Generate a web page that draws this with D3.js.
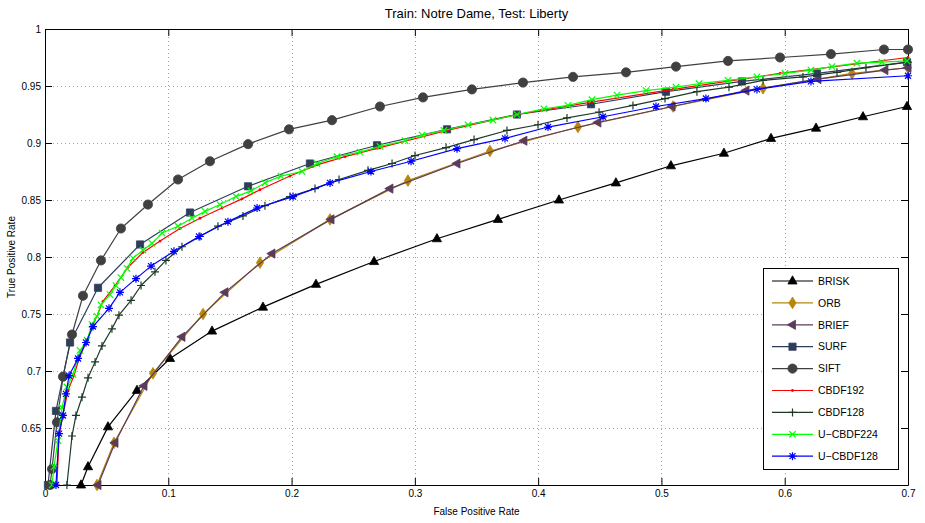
<!DOCTYPE html>
<html>
<head>
<meta charset="utf-8">
<script src="https://cdn.jsdelivr.net/npm/d3@7"></script>
<style>
  html, body { margin: 0; padding: 0; background: #fff; }
  svg { display: block; font-family: "Liberation Sans", Arial, Helvetica, sans-serif; }
</style>
</head>
<body>
<svg id="chart" width="925" height="523"></svg>
<script>
// ---------------- DATA ----------------
const titleText = "Train: Notre Dame, Test: Liberty";
const xLabelText = "False Positive Rate";
const yLabelText = "True Positive Rate";
const xTicks = [0, 0.1, 0.2, 0.3, 0.4, 0.5, 0.6, 0.7];
const xTickLabels = ["0", "0.1", "0.2", "0.3", "0.4", "0.5", "0.6", "0.7"];
const yTicks = [0.65, 0.7, 0.75, 0.8, 0.85, 0.9, 0.95, 1];
const yTickLabels = ["0.65", "0.7", "0.75", "0.8", "0.85", "0.9", "0.95", "1"];
const seriesNames = ["BRISK", "ORB", "BRIEF", "SURF", "SIFT", "CBDF192", "CBDF128", "U\u2212CBDF224", "U\u2212CBDF128"];

const briskFPR = [0.0292,0.0349,0.0511,0.0746,0.1014,0.1355,0.1768,0.2198,0.2669,0.3179,0.3674,0.4169,0.4631,0.5077,0.5507,0.5889,0.6254,0.6635,0.6992];
const briskTPR = [0.600,0.616,0.651,0.683,0.711,0.735,0.756,0.776,0.796,0.816,0.833,0.850,0.865,0.880,0.891,0.904,0.913,0.923,0.932];

const orbFPR = [0.0422,0.0560,0.0876,0.1282,0.1744,0.2312,0.2944,0.3609,0.4323,0.5094,0.5824,0.6546,0.700];
const orbTPR = [0.600,0.637,0.698,0.750,0.795,0.833,0.867,0.893,0.914,0.932,0.948,0.961,0.966];

const briefFPR = [0.0430,0.0568,0.0803,0.1111,0.1460,0.1841,0.2320,0.2798,0.3342,0.3885,0.4485,0.5086,0.5686,0.6270,0.6813,0.700];
const briefTPR = [0.600,0.637,0.687,0.730,0.769,0.803,0.833,0.860,0.882,0.902,0.918,0.932,0.946,0.956,0.964,0.966];

const surfFPR = [0.0024,0.0089,0.0203,0.0430,0.0771,0.1176,0.1647,0.2149,0.2693,0.3261,0.3828,0.4429,0.5037,0.5653,0.6262,0.6992];
const surfTPR = [0.600,0.665,0.725,0.773,0.811,0.839,0.862,0.882,0.898,0.912,0.925,0.934,0.945,0.954,0.961,0.971];

const siftFPR = [0.0041,0.0057,0.0097,0.0146,0.0219,0.0308,0.0454,0.0616,0.0835,0.1079,0.1338,0.1647,0.1979,0.2328,0.2717,0.3066,0.3463,0.3877,0.4283,0.4713,0.5118,0.5540,0.5962,0.6375,0.6805,0.700];
const siftTPR = [0.600,0.614,0.655,0.695,0.732,0.766,0.797,0.825,0.846,0.868,0.884,0.899,0.912,0.920,0.932,0.940,0.947,0.953,0.958,0.962,0.967,0.972,0.975,0.978,0.982,0.982];

const cbdf192FPR = [0.0097,0.0114,0.0146,0.0187,0.0235,0.0276,0.0333,0.0389,0.0470,0.0568,0.0673,0.0795,0.0933,0.1095,0.1257,0.1436,0.1598,0.1744,0.1987,0.2214,0.2433,0.2717,0.3261,0.3828,0.4445,0.5094,0.5962,0.700];
const cbdf192TPR = [0.600,0.644,0.662,0.683,0.696,0.711,0.725,0.740,0.761,0.775,0.791,0.804,0.814,0.825,0.834,0.843,0.851,0.859,0.871,0.881,0.888,0.896,0.911,0.925,0.936,0.947,0.961,0.975];

const cbdf128FPR = [0.0178,0.0219,0.0251,0.0300,0.0349,0.0406,0.0462,0.0543,0.0600,0.0698,0.0779,0.0892,0.0981,0.1111,0.1257,0.1403,0.1606,0.1784,0.1987,0.2190,0.2385,0.2620,0.2815,0.3001,0.3253,0.3480,0.3747,0.3999,0.4234,0.4494,0.4769,0.5029,0.5288,0.5548,0.5824,0.6148,0.6424,0.6659,0.700];
const cbdf128TPR = [0.600,0.643,0.661,0.677,0.694,0.708,0.722,0.737,0.749,0.762,0.775,0.787,0.797,0.809,0.818,0.827,0.836,0.845,0.853,0.860,0.868,0.876,0.882,0.889,0.896,0.903,0.911,0.916,0.922,0.927,0.933,0.939,0.945,0.949,0.955,0.958,0.962,0.966,0.971];

const ucbdf224FPR = [0.0057,0.0073,0.0105,0.0138,0.0178,0.0227,0.0284,0.0341,0.0381,0.0422,0.0454,0.0527,0.0576,0.0616,0.0665,0.0714,0.0795,0.0868,0.0949,0.1079,0.1192,0.1298,0.1419,0.1549,0.1671,0.1784,0.1914,0.2085,0.2206,0.2369,0.2555,0.2717,0.2920,0.3058,0.3236,0.3431,0.3634,0.3828,0.4047,0.4242,0.4437,0.4640,0.4875,0.5118,0.5305,0.5540,0.5775,0.6002,0.6213,0.6383,0.6586,0.6789,0.6992];
const ucbdf224TPR = [0.600,0.616,0.639,0.668,0.686,0.697,0.718,0.727,0.741,0.748,0.758,0.767,0.775,0.782,0.790,0.799,0.806,0.812,0.821,0.827,0.834,0.840,0.846,0.853,0.858,0.865,0.871,0.875,0.882,0.888,0.892,0.897,0.902,0.907,0.911,0.916,0.920,0.925,0.930,0.933,0.938,0.942,0.946,0.949,0.952,0.955,0.958,0.961,0.964,0.967,0.970,0.971,0.972];

const ucbdf128FPR = [0.0089,0.0114,0.0146,0.0170,0.0195,0.0268,0.0333,0.0389,0.0519,0.0608,0.0738,0.0860,0.1046,0.1249,0.1484,0.1720,0.2012,0.2312,0.2644,0.2969,0.3342,0.3731,0.4080,0.4526,0.4956,0.5361,0.5775,0.6213,0.700];
const ucbdf128TPR = [0.600,0.645,0.661,0.680,0.696,0.711,0.725,0.739,0.755,0.769,0.781,0.792,0.805,0.818,0.831,0.843,0.853,0.865,0.875,0.884,0.895,0.904,0.914,0.923,0.932,0.939,0.947,0.954,0.959];

// ---------------- STYLE ----------------
const seriesStyle = [
  {color: "#000000", marker: "^"},
  {color: "#b8860b", marker: "d"},
  {color: "#5b3b5b", marker: "<"},
  {color: "#2f3d5c", marker: "s"},
  {color: "#404040", marker: "o"},
  {color: "#ff0000", marker: "."},
  {color: "#1c3a26", marker: "+"},
  {color: "#00ff00", marker: "x"},
  {color: "#0000ff", marker: "*"}
];
const seriesFPR = [briskFPR, orbFPR, briefFPR, surfFPR, siftFPR, cbdf192FPR, cbdf128FPR, ucbdf224FPR, ucbdf128FPR];
const seriesTPR = [briskTPR, orbTPR, briefTPR, surfTPR, siftTPR, cbdf192TPR, cbdf128TPR, ucbdf224TPR, ucbdf128TPR];

const series = seriesNames.map((name, i) => ({
  name,
  color: seriesStyle[i].color,
  marker: seriesStyle[i].marker,
  points: seriesFPR[i].map((xv, j) => ({x: xv, y: seriesTPR[i][j]}))
}));

// ---------------- LAYOUT ----------------
const svg = d3.select("#chart");
const pL = 45, pR = 908, pT = 29, pB = 485;
const xs = d3.scaleLinear().domain([0, 0.7]).range([pL, pR]);
const ys = d3.scaleLinear().domain([0.6, 1]).range([pB, pT]);

svg.append("rect").attr("width", 925).attr("height", 523).attr("fill", "#fff");

// grid
const grid = svg.append("g").attr("stroke", "#8a8a8a").attr("stroke-width", 0.8).attr("stroke-dasharray", "1,3");
grid.selectAll(".gx").data(xTicks).join("line")
  .attr("x1", d => Math.round(xs(d)) + 0.5).attr("x2", d => Math.round(xs(d)) + 0.5)
  .attr("y1", pT).attr("y2", pB);
grid.selectAll(".gy").data(yTicks).join("line")
  .attr("y1", d => Math.round(ys(d)) + 0.5).attr("y2", d => Math.round(ys(d)) + 0.5)
  .attr("x1", pL).attr("x2", pR);

// axes
const tickLen = 7;
const fmtX = (d, i) => xTickLabels[i];
const fmtY = (d, i) => yTickLabels[i];
const axB = svg.append("g").attr("transform", `translate(0,${pB})`)
  .call(d3.axisBottom(xs).tickValues(xTicks).tickFormat(fmtX).tickSizeInner(-tickLen).tickSizeOuter(0).tickPadding(5));
const axL = svg.append("g").attr("transform", `translate(${pL},0)`)
  .call(d3.axisLeft(ys).tickValues(yTicks).tickFormat(fmtY).tickSizeInner(-tickLen).tickSizeOuter(0).tickPadding(4));
const axT = svg.append("g").attr("transform", `translate(0,${pT})`)
  .call(d3.axisTop(xs).tickValues(xTicks).tickFormat("").tickSizeInner(-tickLen).tickSizeOuter(0));
const axR = svg.append("g").attr("transform", `translate(${pR},0)`)
  .call(d3.axisRight(ys).tickValues(yTicks).tickFormat("").tickSizeInner(-tickLen).tickSizeOuter(0));
[axB, axL, axT, axR].forEach(g => {
  g.selectAll("path.domain").attr("stroke", "#000").attr("stroke-width", 1);
  g.selectAll(".tick line").attr("stroke", "#000").attr("stroke-width", 1);
  g.selectAll("text").attr("font-size", 10).attr("fill", "#000")
    .attr("font-family", "'Liberation Sans', Arial, sans-serif");
});

// markers
function markerPath(type) {
  switch (type) {
    case "^": return "M0,-5.2L4.6,3L-4.6,3Z";
    case "d": return "M0,-5.8L3.6,0L0,5.8L-3.6,0Z";
    case "<": return "M-5.2,0L3,-4.6L3,4.6Z";
    case "s": return "M-3.6,-3.6H3.6V3.6H-3.6Z";
    case "+": return "M-4,0H4M0,-4V4";
    case "x": return "M-3.2,-3.2L3.2,3.2M-3.2,3.2L3.2,-3.2";
    case "*": return "M-4,0H4M0,-4V4M-3,-3L3,3M-3,3L3,-3";
  }
  return "";
}
function drawMarker(g, type, color) {
  if (type === "o") {
    g.append("circle").attr("r", 4.6).attr("fill", color).attr("stroke", color).attr("stroke-width", 0.8);
  } else if (type === ".") {
    g.append("circle").attr("r", 1.4).attr("fill", color);
  } else if (type === "+" || type === "x" || type === "*") {
    g.append("path").attr("d", markerPath(type)).attr("fill", "none").attr("stroke", color).attr("stroke-width", 1.2);
  } else {
    g.append("path").attr("d", markerPath(type)).attr("fill", color).attr("stroke", color).attr("stroke-width", 0.8).attr("stroke-linejoin", "round");
  }
}

const lineGen = d3.line().x(d => xs(d.x)).y(d => ys(d.y));
const plot = svg.append("g");
series.forEach(s => {
  const g = plot.append("g");
  g.append("path").datum(s.points).attr("d", lineGen)
    .attr("fill", "none").attr("stroke", s.color).attr("stroke-width", 1.2).attr("stroke-linejoin", "round");
  s.points.forEach(p => {
    const mg = g.append("g").attr("transform", `translate(${xs(p.x)},${ys(p.y)})`);
    drawMarker(mg, s.marker, s.color);
  });
});

// title & labels
svg.append("text").attr("x", (pL + pR) / 2).attr("y", 18).attr("text-anchor", "middle")
  .attr("font-size", 13).attr("fill", "#000").text(titleText);
svg.append("text").attr("x", (pL + pR) / 2).attr("y", 515).attr("text-anchor", "middle")
  .attr("font-size", 10).attr("fill", "#000").text(xLabelText);
svg.append("text").attr("transform", `translate(15,${(pT + pB) / 2}) rotate(-90)`).attr("text-anchor", "middle")
  .attr("font-size", 10).attr("fill", "#000").text(yLabelText);

// legend
const lgX = 763, lgY = 268, lgW = 135, lgH = 201;
const lg = svg.append("g");
lg.append("rect").attr("x", lgX + 0.5).attr("y", lgY + 0.5).attr("width", lgW).attr("height", lgH)
  .attr("fill", "#fff").attr("stroke", "#000").attr("stroke-width", 1);
series.forEach((s, i) => {
  const yy = lgY + 13 + i * 21.9;
  const e = lg.append("g");
  e.append("line").attr("x1", lgX + 9).attr("x2", lgX + 50).attr("y1", yy).attr("y2", yy)
    .attr("stroke", s.color).attr("stroke-width", 1.2);
  drawMarker(e.append("g").attr("transform", `translate(${lgX + 29.5},${yy})`), s.marker, s.color);
  e.append("text").attr("x", lgX + 55).attr("y", yy).attr("dy", "0.36em")
    .attr("font-size", 10.5).attr("fill", "#000").text(s.name);
});
</script>
</body>
</html>
